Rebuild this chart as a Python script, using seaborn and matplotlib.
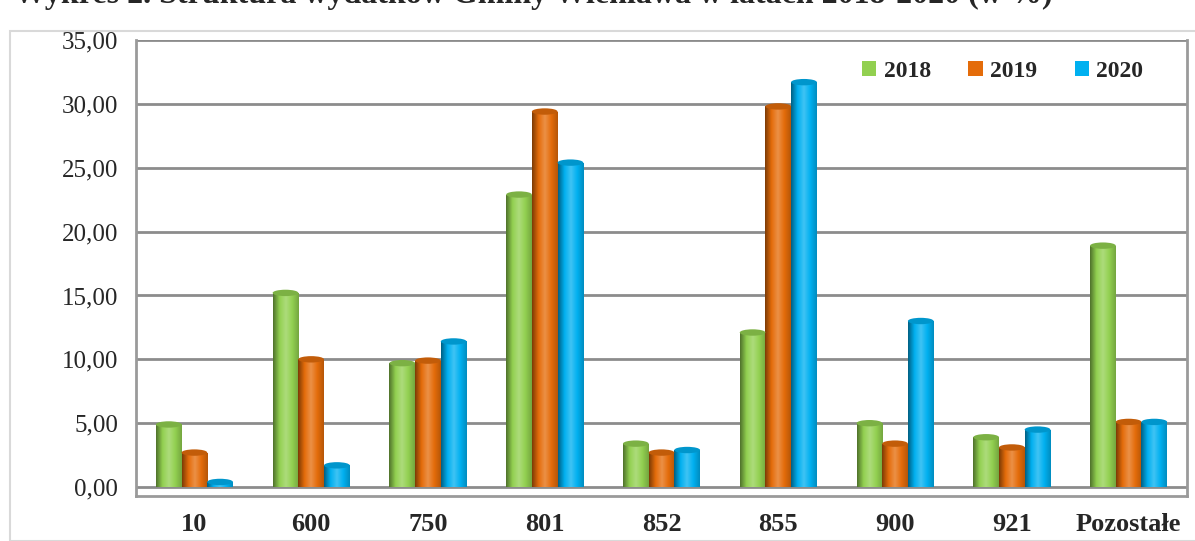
"""Struktura wydatków - grouped bar chart."""

import matplotlib
matplotlib.use("Agg")

import matplotlib.pyplot as plt
import seaborn as sns
import pandas as pd
import numpy as np
from matplotlib.patches import Rectangle, Ellipse
from matplotlib.colors import LinearSegmentedColormap, to_rgb
from matplotlib.ticker import FuncFormatter

categories = ["10", "600", "750", "801", "852", "855", "900", "921", "Pozostałe"]
years = ["2018", "2019", "2020"]
v2018 = [4.9, 15.2, 9.7, 22.9, 3.4, 12.1, 5.0, 3.9, 18.9]
v2019 = [2.7, 10.0, 9.9, 29.4, 2.7, 29.8, 3.4, 3.1, 5.1]
v2020 = [0.4, 1.7, 11.4, 25.4, 2.9, 31.7, 13.0, 4.5, 5.1]
colors = ["#92d050", "#e46c0a", "#00b0f0"]

df = pd.DataFrame({
    "kategoria": categories * 3,
    "rok": [y for y in years for _ in categories],
    "wartosc": v2018 + v2019 + v2020,
})

sns.set_style("white")
plt.rcParams["font.family"] = ["Liberation Serif", "DejaVu Serif"]

fig = plt.figure(figsize=(11.95, 5.41), dpi=100)
W, H = 1195, 541

# outer frame of the chart area
fig.patches.append(Rectangle((10 / W, 0), 1.2, 1 - 31 / H, transform=fig.transFigure,
                             fill=False, edgecolor="#d9d9d9", linewidth=1.5))

ax = fig.add_axes([136 / W, 1 - 496 / H, (1187 - 136) / W, (496 - 40) / H])
sns.barplot(data=df, x="kategoria", y="wartosc", hue="rok", palette=colors,
            width=0.66, ax=ax, saturation=1, edgecolor="none", zorder=3)

# cylinder-like shading on each bar
def shade_cmap(c):
    r = np.array(to_rgb(c))
    dark = r * 0.55
    light = np.clip(r + (1 - r) * 0.25, 0, 1)
    return LinearSegmentedColormap.from_list("cyl", [dark, r, light, r, r * 0.8])

grad = np.linspace(0, 1, 64).reshape(1, -1)
for i, bar in enumerate(ax.patches[:len(categories) * 3]):
    c = colors[i // len(categories)]
    x0, w, h = bar.get_x(), bar.get_width(), bar.get_height()
    im = ax.imshow(grad, cmap=shade_cmap(c), aspect="auto", extent=(x0, x0 + w, 0, h),
                   zorder=3.5)
    im.set_clip_path(bar)
    r = np.array(to_rgb(c))
    cap = Ellipse((x0 + w / 2, h), w, 0.5, facecolor=r * 0.85, edgecolor="none", zorder=4)
    ax.add_patch(cap)
ax.set_xlim(-0.5, 8.5)
ax.set_ylim(-0.7, 35)

ax.set_yticks(range(0, 36, 5))
ax.yaxis.set_major_formatter(FuncFormatter(lambda v, p: f"{v:.2f}".replace(".", ",")))
for y in range(0, 36, 5):
    ax.axhline(y, color="#8c8c8c", linewidth=2, zorder=1)

for s in ["left", "right", "bottom"]:
    ax.spines[s].set_color("#9a9a9a")
    ax.spines[s].set_linewidth(2)
ax.spines["top"].set_visible(False)

ax.tick_params(axis="y", length=0, pad=13, labelsize=18)
ax.tick_params(axis="x", length=0, pad=12, labelsize=19)
for lbl in ax.get_xticklabels():
    lbl.set_fontweight("bold")
ax.set_xlabel("")
ax.set_ylabel("")

leg = ax.legend(loc="upper right", bbox_to_anchor=(0.958, 0.955), ncol=3, frameon=False,
                borderaxespad=0, borderpad=0,
                handlelength=0.6, handleheight=0.6, handletextpad=0.3, columnspacing=1.6,
                prop={"weight": "bold", "size": 17})

fig.text(14 / W, 1 - 3 / H, "Wykres 2. Struktura wydatków Gminy Wieniawa w latach 2018-2020 (w %)",
         fontsize=23, fontweight="bold", va="baseline", ha="left")

fig.savefig("out.png", dpi=100)
